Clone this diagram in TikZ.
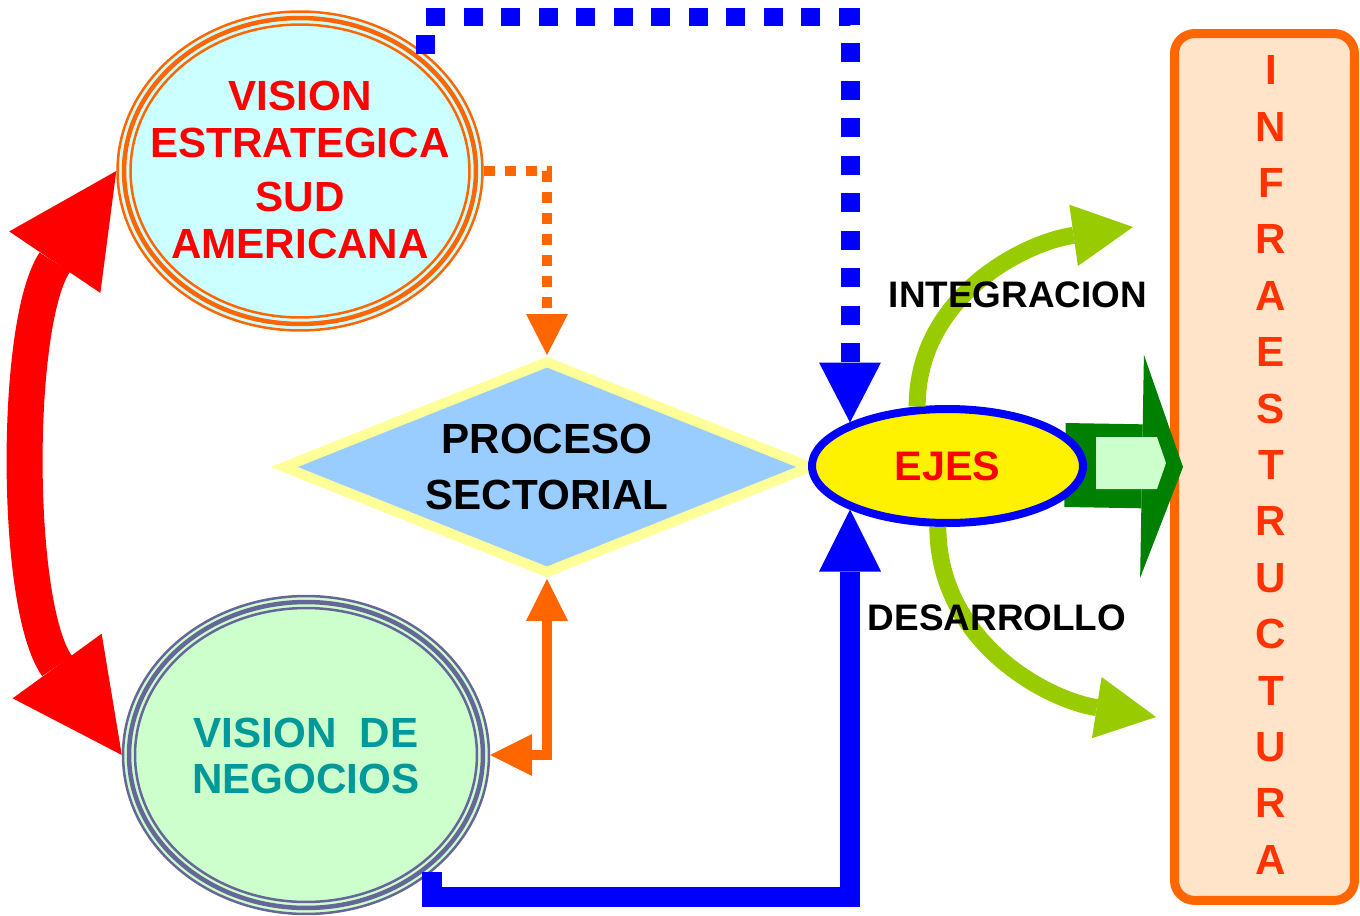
\documentclass[tikz,border=0pt]{standalone}
\usepackage{fontspec}
\setmainfont{Liberation Sans}
\usepackage{tikz}
\usetikzlibrary{positioning}
\usetikzlibrary{arrows.meta}
\usetikzlibrary{shapes.geometric}
\definecolor{VisOrange}{HTML}{FF6600}
\definecolor{VisCyan}{HTML}{CCFFFF}
\definecolor{NegGreen}{HTML}{CCFFCC}
\definecolor{NegBorder}{HTML}{666699}
\definecolor{NegTeal}{HTML}{009999}
\definecolor{ProcBlue}{HTML}{99CCFF}
\definecolor{ProcYellow}{HTML}{FFFF99}
\definecolor{EjeGreen}{HTML}{99CC00}
\definecolor{DarkGreen}{HTML}{008000}
\definecolor{InfraFill}{HTML}{FFE4CA}
\definecolor{InfraText}{HTML}{FF3300}
\tikzset{
ovalnode/.style={ellipse, inner sep=0pt, line width=0.05cm},
procnode/.style={diamond, aspect=2.55, inner sep=0pt, draw=ProcYellow, fill=ProcBlue, line width=0.2cm, minimum width=10.6cm, minimum height=4.28cm},
ejesnode/.style={ellipse, draw=blue, fill=yellow, line width=0.16cm, minimum width=5.42cm, minimum height=2.28cm},
infranode/.style={rectangle, rounded corners=0.4cm, draw=VisOrange, fill=InfraFill, line width=0.18cm, minimum width=3.6cm, minimum height=17.34cm},
bigtext/.style={font=\bfseries\fontsize{24}{26.6}\selectfont, align=center, inner sep=0pt},
smalltext/.style={font=\bfseries\fontsize{21}{25}\selectfont, inner sep=0pt},
redarrow/.style={red, line width=0.72cm, {Triangle[length=2.2cm, width=2.2cm, line width=0pt]}-{Triangle[length=2.2cm, width=2.2cm, line width=0pt]}},
bluedash/.style={blue, line width=0.38cm, dash pattern=on 0.38cm off 0.37cm, -{Triangle[length=1.2cm, width=1.24cm, line width=0pt]}},
bluesolid/.style={blue, line width=0.4cm, -{Triangle[length=1.24cm, width=1.24cm, line width=0pt]}},
orangedot/.style={VisOrange, line width=0.2cm, dash pattern=on 0.22cm off 0.2cm, -{Triangle[length=0.82cm, width=0.84cm, line width=0pt]}},
orangesolid/.style={VisOrange, line width=0.2cm, {Triangle[length=0.84cm, width=0.84cm, line width=0pt]}-{Triangle[length=0.84cm, width=0.84cm, line width=0pt]}},
ejearrow/.style={EjeGreen, line width=0.34cm, -{Triangle[length=1.2cm, width=1.24cm, line width=0pt]}},
bigarrow/.style={DarkGreen, line width=1.68cm, -{Triangle[length=0.82cm, width=4.46cm, line width=0pt]}}
}

\begin{document}
\begin{tikzpicture}[x=0.02cm, y=-0.02cm]
\useasboundingbox (0,0) rectangle (1360,916);
%Nodes
\node [ovalnode, draw=VisOrange, fill=VisCyan, minimum width=7.3cm, minimum height=6.38cm] (vest) at (300,171) {};
\draw [VisOrange, line width=0.09cm] (vest.center) ellipse [x radius=3.52cm, y radius=3.06cm];
\draw [VisOrange, line width=0.05cm] (vest.center) ellipse [x radius=3.39cm, y radius=2.93cm];
\node [bigtext, text=red] (vestT) at (300,170) {VISION\\ESTRATEGICA\\[4.6pt]SUD\\AMERICANA};

\node [ovalnode, draw=NegBorder, fill=NegGreen, minimum width=7.32cm, minimum height=6.36cm] (vneg) at (306,755) {};
\draw [NegBorder, line width=0.09cm] (vneg.center) ellipse [x radius=3.54cm, y radius=3.06cm];
\draw [NegBorder, line width=0.05cm] (vneg.center) ellipse [x radius=3.42cm, y radius=2.94cm];
\node [bigtext, text=NegTeal] (vnegT) at (306,756) {VISION\ \ DE\\NEGOCIOS};

\node [procnode, font=\bfseries\fontsize{24}{32.3}\selectfont, align=center] (proc) at (547,467) {PROCESO\\SECTORIAL};

\node [infranode] (infra) at (1264.5,467) {};
\node [font=\bfseries\fontsize{24}{32.1}\selectfont, align=center, text=InfraText, inner sep=0pt] (infraT) at (1271,465) {I\\N\\F\\R\\A\\E\\S\\T\\R\\U\\C\\T\\U\\R\\A};

\coordinate (gfrom) at (1065,465);
\draw [bigarrow] (gfrom) -- ([xshift=0.26cm]infra.west);
\fill [NegGreen] (1096,437) -- (1157,437) -- (1166,463) -- (1157,489) -- (1096,489) -- cycle;

\node [ejesnode, text=red, font=\bfseries\fontsize{23.5}{26}\selectfont] (ejes) at (947.5,466) {EJES};

\coordinate (ctop) at (850,17);
\coordinate (cbot) at (850,897);
\coordinate (integEnd) at (1133,227);
\coordinate (desaEnd) at (1156,717);

%Lines
\draw [redarrow] (vest.west) to[out=236, in=126, looseness=0.8] (vneg.west);
\draw [orangedot] (vest.east) -| (proc.north);
\draw [orangesolid] (proc.south) |- (vneg.east);
\draw [bluedash] (vest.43) |- (ctop) -- (ctop |- ejes.156);
\draw [bluesolid] (vneg.-43) |- (cbot) -- (cbot |- ejes.204);
\draw [ejearrow] (ejes.117) to[out=90, in=188] (integEnd);
\draw [ejearrow] (ejes.261) to[out=270, in=171] (desaEnd);

\node [smalltext] (integ) at (1018,295) {INTEGRACION};
\node [smalltext] (desa) at (997,618) {DESARROLLO};
\end{tikzpicture}
\end{document}
